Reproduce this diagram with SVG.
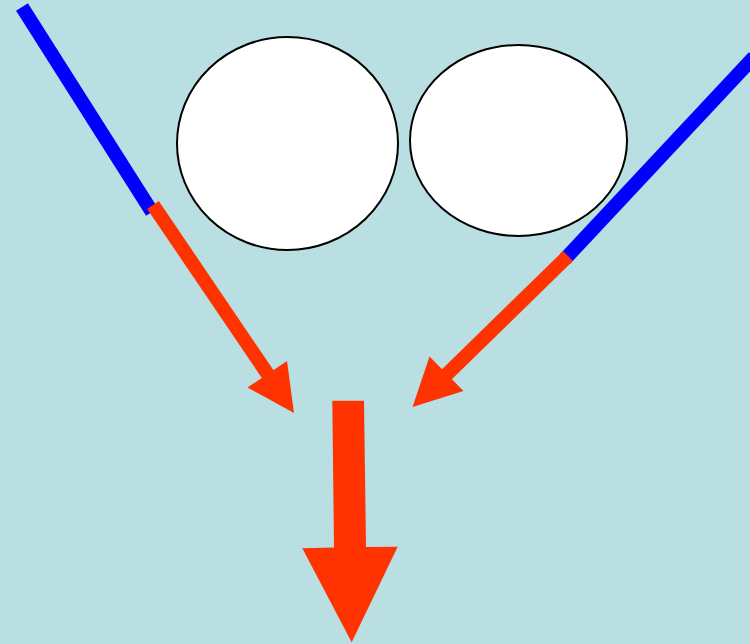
<svg xmlns="http://www.w3.org/2000/svg" width="750" height="644" viewBox="0 0 750 644">
<style>
.bg{fill:#b9dfe3}
.node{fill:#fff;stroke:#000;stroke-width:2}
.blue{stroke:#0000ff;stroke-width:14;fill:none}
.red{stroke:#ff3300;stroke-width:14;fill:none}
.head{fill:#ff3300}
</style>
<rect class="bg" x="0" y="0" width="750" height="644"/>
<g id="circle-left"><ellipse class="node" cx="287.5" cy="143.5" rx="110.5" ry="106.5"/></g>
<g id="circle-right"><ellipse class="node" cx="518.5" cy="140.5" rx="108.5" ry="95.5"/></g>
<g id="connectors">
<line class="blue" x1="22" y1="7" x2="152" y2="212"/>
<line class="red" x1="153" y1="205" x2="271" y2="379"/>
<polygon class="head" points="294,413 247.5,387.5 287,361"/>
<line class="blue" x1="754" y1="57" x2="565" y2="259"/>
<line class="red" x1="568" y1="256" x2="440" y2="381"/>
<polygon class="head" points="412.5,407 429.5,356.5 463.5,391"/>
<polygon class="head" points="332.3,400.7 364,400.7 366,547 397.7,546.7 351.7,642.3 302.3,548.3 334,547.5"/>
</g>
</svg>
